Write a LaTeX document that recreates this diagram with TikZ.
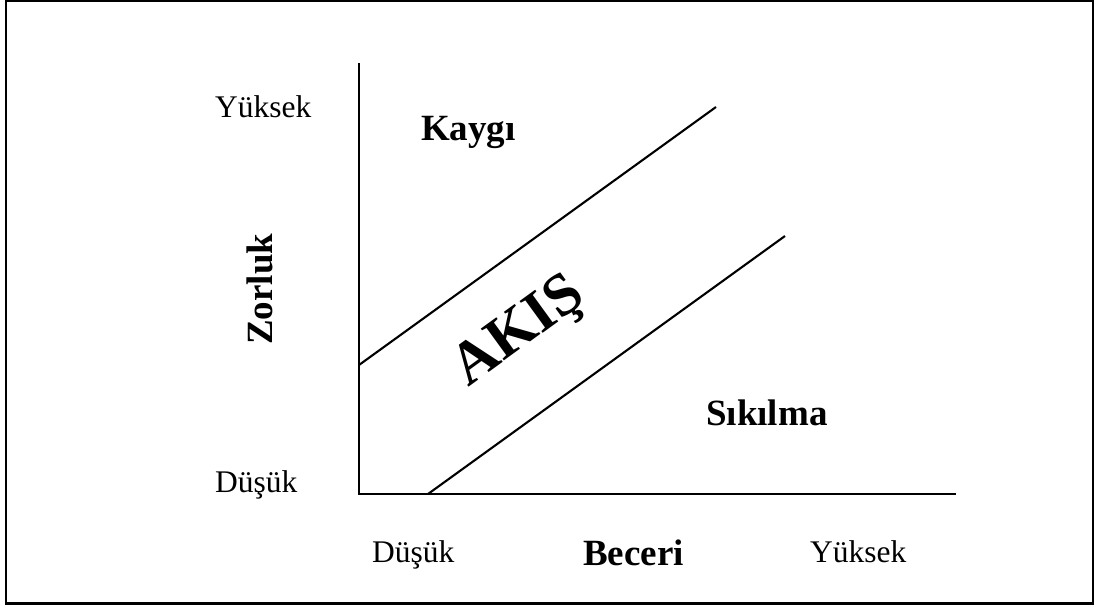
\documentclass[tikz,border=0pt]{standalone}
\usepackage{fontspec}
\setmainfont{Liberation Serif}
\begin{document}
\begin{tikzpicture}[x=1pt,y=-1pt,
  reg/.style={inner sep=0pt, font=\fontsize{31.5}{36}\selectfont},
  bld/.style={inner sep=0pt, font=\fontsize{37}{42}\selectfont\bfseries},
  axis/.style={line width=2.6pt},
  diag/.style={line width=2.1pt}]
\useasboundingbox (0,0) rectangle (1098,608);
\draw[line width=2.2pt] (6,1.2) rectangle (1093,603.5);
% coordinates
\coordinate (O) at (359,494);
\coordinate (ytop) at (359,63);
\coordinate (xend) at (956,494);
\coordinate (u1) at (359,365);
\coordinate (u2) at (716,107);
\coordinate (l1) at (428,494);
\coordinate (l2) at (785,236);
% axes
\draw[axis] (ytop) -- (O) -- (xend);
\draw[diag] (u1) -- (u2);
\draw[diag] (l1) -- (l2);
% labels
\node[reg, anchor=base west] (yh) at (215,117) {Yüksek};
\node[reg, anchor=base west] (yl) at (215,492) {Düşük};
\node[reg, anchor=base west] (xl) at (372,562) {Düşük};
\node[reg, anchor=base west] (xh) at (810,562) {Yüksek};
\node[bld, anchor=base west] (xt) at (583,565) {Beceri};
\node[bld, anchor=base west, rotate=90] (yt) at (272,345) {Zorluk};
\node[bld, anchor=base west] (k) at (421,140) {Kaygı};
\node[bld, anchor=base west] (s) at (706,425) {Sıkılma};
\node[inner sep=0pt, rotate=36, font=\fontsize{60}{64}\selectfont\bfseries] (a) at (520,333) {AKIŞ};
\end{tikzpicture}
\end{document}
